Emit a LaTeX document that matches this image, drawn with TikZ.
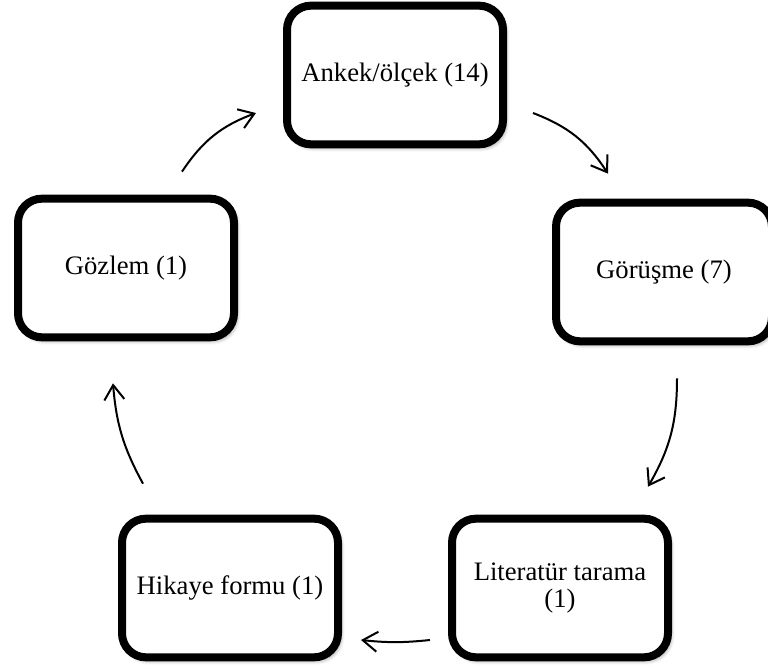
\documentclass[tikz,border=0pt]{standalone}
\usepackage{fontspec}
\setmainfont{Liberation Serif}
\usetikzlibrary{positioning}
\usetikzlibrary{arrows.meta}
\usetikzlibrary{shadows.blur}

\begin{document}
\begin{tikzpicture}[x=0.75pt,y=0.75pt,
		stage/.style={
			draw,
			rectangle,
			rounded corners=18pt,
			line width=6pt,
			fill=white,
			minimum width=162pt,
			minimum height=104pt,
			align=center,
			font=\fontsize{20}{20}\selectfont,
			blur shadow={shadow xshift=2pt, shadow yshift=-2.5pt, shadow blur radius=3pt, shadow opacity=45}
		},
		flow/.style={line width=1.5pt, -{Straight Barb[length=11pt, width=15pt, line width=1.5pt]}}]
		\useasboundingbox (0,0) rectangle (768,669);
		
		\node[stage] (anket) at (395,594) {Ankek/ölçek (14)};
		\node[stage] (gorusme) at (664,397) {Görüşme (7)};
		\node[stage] (literatur) at (560,81) {Literatür tarama\\(1)};
		\node[stage] (hikaye) at (230,81) {Hikaye formu (1)};
		\node[stage] (gozlem) at (126,401) {Gözlem (1)};
		
		\draw[flow] ([shift={(56,23)}]gozlem.north) to[bend left=18] ([shift={(-27,-38)}]anket.west);
		\draw[flow] ([shift={(26,-38)}]anket.east) to[bend left=18] ([shift={(-56,25)}]gorusme.north);
		\draw[flow] ([shift={(13,-33)}]gorusme.south) to[bend left=15] ([shift={(88,28)}]literatur.north);
		\draw[flow] ([shift={(-18,-52)}]literatur.west) to[bend left=6] ([shift={(19,-52)}]hikaye.east);
		\draw[flow] ([shift={(-87,31)}]hikaye.north) to[bend left=12] ([shift={(-13,-42)}]gozlem.south);
	\end{tikzpicture}
\end{document}
